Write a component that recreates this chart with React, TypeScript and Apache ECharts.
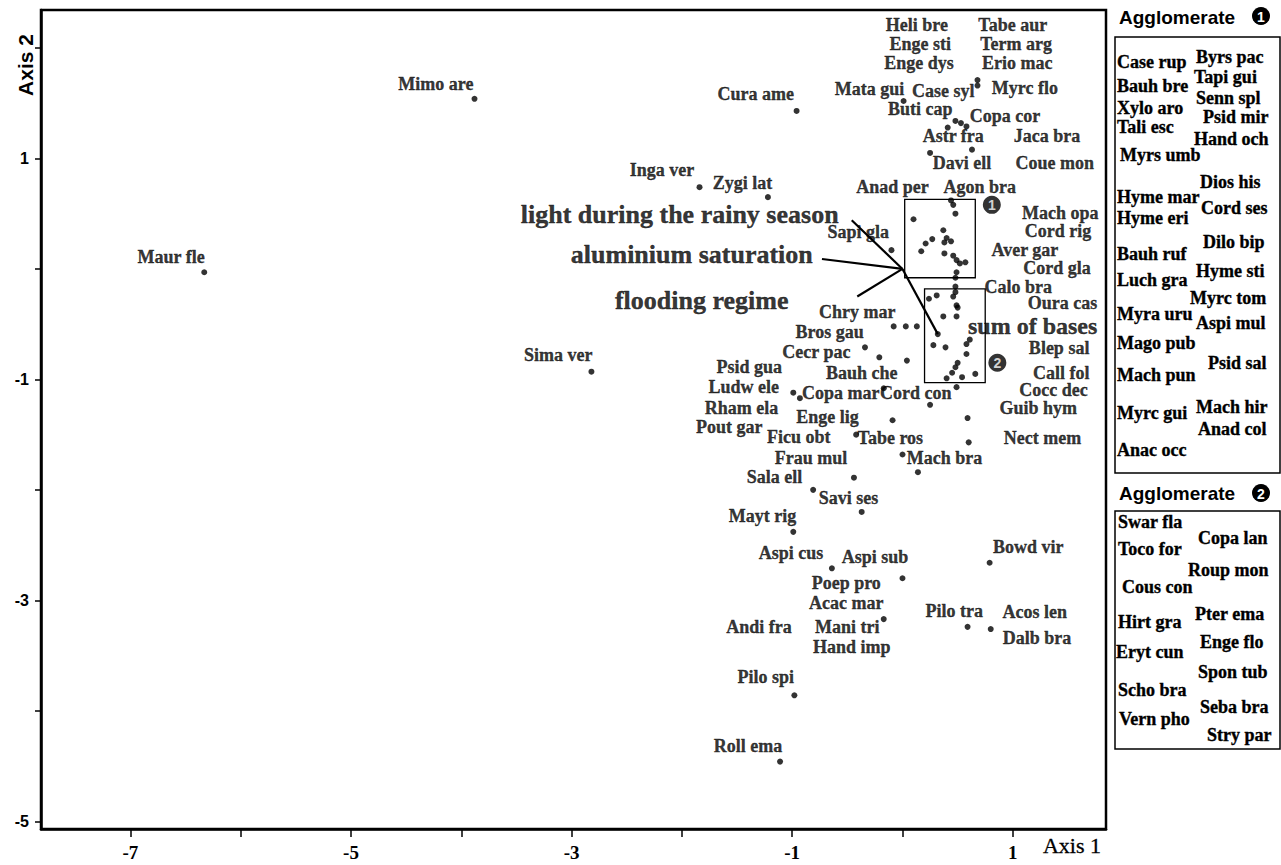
import React, { useEffect, useRef } from 'react';
import * as echarts from 'echarts';

// ---------- data ----------
// species scores (points)
const dotX = [-3.88, -6.33, -0.96, -1.84, -1.22, -2.82, -1.11, -0.98, -0.17, 0.59, 0.80, 0.79, 0.00, -0.64, -0.99, -0.37, -0.81, -0.44, 0.00, 0.14, -0.42, -0.99, -0.93, -0.17, 0.25, -0.09, 0.49, 0.59, 0.60, -0.34, -0.21, 0.04, -0.08, 0.03, 0.13, -0.10, 0.48, 0.48, 0.48, 0.46, 0.31, 0.24, 0.49, 0.50, 0.37, 0.49, 0.28, 0.39, 0.58, 0.61, 0.58, 0.50, 0.48, 0.45, 0.40, 0.54, 0.66, 0.32, 0.44, 0.46, 0.48, 0.10, 0.37, 0.27, 0.21, 0.17, 0.40, 0.38, 0.44, 0.38, 0.46, 0.49, 0.52, 0.57, 0.49, 0.68, 0.68, 0.01, 0.48, 0.53, 0.58, 0.41, 0.25, 0.63];
const dotY = [1.54, -0.03, 1.43, 0.74, 0.65, -0.93, -4.46, -3.86, -3.17, -3.24, -3.26, -2.66, -2.80, -2.71, -2.38, -2.20, -2.00, -1.89, -1.68, -1.84, -1.50, -1.12, -1.17, -1.08, -1.23, -1.37, -1.07, -1.35, -1.57, -0.71, -0.80, -0.83, -0.52, -0.52, -0.52, 0.17, -0.08, -0.16, -0.21, -0.25, -0.24, -0.27, -0.33, -0.35, -0.43, -0.43, -0.69, -0.71, -0.68, -0.64, -0.77, -0.85, -0.89, -0.94, -0.99, -0.98, -0.95, -0.59, 0.62, 0.58, 0.50, 0.45, 0.35, 0.27, 0.23, 0.16, 0.28, 0.24, 0.25, 0.14, 0.12, 0.08, 0.05, 0.06, -0.03, 1.71, 1.66, 1.52, 1.34, 1.32, 1.29, 1.28, 1.05, 1.08];

// species labels and their anchor points (axis units)
const speciesNames = ['Mimo are', 'Cura ame', 'Inga ver', 'Zygi lat', 'Maur fle', 'Sima ver', 'Heli bre', 'Tabe aur', 'Enge sti', 'Term arg', 'Enge dys', 'Erio mac', 'Mata gui', 'Case syl', 'Myrc flo', 'Buti cap', 'Copa cor', 'Astr fra', 'Jaca bra', 'Davi ell', 'Coue mon', 'Anad per', 'Agon bra', 'Sapi gla', 'Mach opa', 'Cord rig', 'Aver gar', 'Cord gla', 'Calo bra', 'Oura cas', 'Blep sal', 'Call fol', 'Cocc dec', 'Guib hym', 'Nect mem', 'Mach bra', 'Chry mar', 'Bros gau', 'Cecr pac', 'Psid gua', 'Bauh che', 'Ludw ele', 'Copa mar', 'Cord con', 'Rham ela', 'Enge lig', 'Pout gar', 'Ficu obt', 'Tabe ros', 'Frau mul', 'Sala ell', 'Savi ses', 'Mayt rig', 'Aspi cus', 'Aspi sub', 'Bowd vir', 'Poep pro', 'Acac mar', 'Andi fra', 'Mani tri', 'Hand imp', 'Pilo tra', 'Acos len', 'Dalb bra', 'Pilo spi', 'Roll ema'];
const speciesLabelX = [-4.23, -1.33, -2.18, -1.45, -6.63, -3.12, 0.13, 1.00, 0.16, 1.03, 0.15, 1.04, -0.30, 0.37, 1.11, 0.16, 0.93, 0.46, 1.31, 0.54, 1.38, -0.09, 0.70, -0.40, 1.43, 1.41, 1.11, 1.40, 1.05, 1.45, 1.42, 1.44, 1.37, 1.23, 1.27, 0.38, -0.41, -0.66, -0.78, -1.39, -0.37, -1.44, -0.56, 0.12, -1.46, -0.68, -1.57, -0.94, -0.11, -0.83, -1.16, -0.49, -1.27, -1.01, -0.25, 1.14, -0.51, -0.51, -1.30, -0.50, -0.46, 0.47, 1.20, 1.22, -1.24, -1.40];
const speciesLabelY = [1.67, 1.58, 0.90, 0.78, 0.11, -0.78, 2.21, 2.21, 2.04, 2.04, 1.86, 1.86, 1.63, 1.61, 1.64, 1.45, 1.38, 1.20, 1.20, 0.96, 0.96, 0.74, 0.74, 0.33, 0.51, 0.34, 0.17, 0.01, -0.16, -0.31, -0.72, -0.94, -1.10, -1.26, -1.53, -1.71, -0.39, -0.57, -0.75, -0.89, -0.94, -1.07, -1.12, -1.12, -1.26, -1.34, -1.43, -1.52, -1.53, -1.71, -1.88, -2.07, -2.24, -2.57, -2.61, -2.52, -2.84, -3.02, -3.24, -3.24, -3.42, -3.10, -3.11, -3.34, -3.69, -4.32];

// environmental variables (biplot arrows from the origin)
const envNames = ['light during the rainy season', 'aluminium saturation', 'flooding regime', 'sum of bases'];
const envTipX = [-0.46, -0.73, -0.41, 0.32];
const envTipY = [0.44, 0.09, -0.25, -0.59];
const envLabelX = [-2.02, -1.91, -1.82, 1.18];
const envLabelY = [0.49, 0.13, -0.29, -0.515];

// agglomerates (boxes in axis units) and their markers
const groupNames = ['1', '2'];
const groupBoxX1 = [0.02, 0.20];
const groupBoxX2 = [0.66, 0.75];
const groupBoxY1 = [0.63, -0.18];
const groupBoxY2 = [-0.08, -1.03];
const groupMarkX = [0.81, 0.86];
const groupMarkY = [0.58, -0.85];

// legend lists
const agg1Left = ['Case rup', 'Bauh bre', 'Xylo aro', 'Tali esc', 'Myrs umb', 'Hyme mar', 'Hyme eri', 'Bauh ruf', 'Luch gra', 'Myra uru', 'Mago pub', 'Mach pun', 'Myrc gui', 'Anac occ'];
const agg1Right = ['Byrs pac', 'Tapi gui', 'Senn spl', 'Psid mir', 'Hand och', 'Dios his', 'Cord ses', 'Dilo bip', 'Hyme sti', 'Myrc tom', 'Aspi mul', 'Psid sal', 'Mach hir', 'Anad col'];
const agg2Left = ['Swar fla', 'Toco for', 'Cous con', 'Hirt gra', 'Eryt cun', 'Scho bra', 'Vern pho'];
const agg2Right = ['Copa lan', 'Roup mon', 'Pter ema', 'Enge flo', 'Spon tub', 'Seba bra', 'Stry par'];

// axes
const xTicks = [-7, -6, -5, -4, -3, -2, -1, 0, 1];
const xTickLabels = [-7, -5, -3, -1, 1];
const yTicks = [-5, -4, -3, -2, -1, 0, 1, 2];
const yTickLabels = [-5, -3, -1, 1];

// ---------- layout (pixels) ----------
const L1_LEFT_X = [1117, 1117, 1117, 1117, 1120, 1117, 1117, 1117, 1117, 1117, 1117, 1117, 1117, 1117];
const L1_LEFT_Y = [62, 86, 108, 127, 155, 197, 218, 254, 280, 314, 343, 375, 413, 450];
const L1_RIGHT_X = [1196, 1194, 1196, 1203, 1194, 1200, 1201, 1203, 1196, 1190, 1196, 1208, 1196, 1198];
const L1_RIGHT_Y = [57, 77, 98, 117, 139, 182, 208, 242, 271, 298, 323, 363, 407, 429];
const L2_LEFT_X = [1118, 1118, 1122, 1118, 1116, 1118, 1119];
const L2_LEFT_Y = [522, 549, 587, 622, 652, 690, 719];
const L2_RIGHT_X = [1198, 1188, 1195, 1200, 1198, 1200, 1207];
const L2_RIGHT_Y = [538, 570, 614, 642, 672, 707, 735];

const SERIF = '"Liberation Serif", "Times New Roman", serif';
const SANS = '"Liberation Sans", Arial, sans-serif';
const LABEL_FONT = 'bold 18px "Liberation Serif"';

function legendTexts(names: string[], xs: number[], ys: number[]) {
  return names.map((n, i) => ({
    type: 'text',
    x: xs[i],
    y: ys[i],
    silent: true,
    style: {
      text: n,
      fill: '#000',
      font: LABEL_FONT,
      align: 'left',
      verticalAlign: 'middle',
      stroke: '#000',
      lineWidth: 0.35,
    },
  }));
}

function buildOption() {
  const series: any[] = [];

  series.push({
    type: 'scatter',
    name: 'species',
    silent: true,
    symbol: 'circle',
    symbolSize: 6,
    itemStyle: { color: '#000' },
    data: dotX.map((x, i) => [x, dotY[i]]),
    z: 3,
    markArea: {
      silent: true,
      itemStyle: { color: 'rgba(0,0,0,0)', borderColor: '#000', borderWidth: 1.3 },
      label: { show: false },
      data: groupNames.map((g, i) => [
        { name: g, coord: [groupBoxX1[i], groupBoxY1[i]] },
        { coord: [groupBoxX2[i], groupBoxY2[i]] },
      ]),
    },
  });

  envNames.forEach((n, i) => {
    series.push({
      type: 'line',
      name: n,
      silent: true,
      symbol: 'none',
      lineStyle: { color: '#000', width: 2.2 },
      data: [[0, 0], [envTipX[i], envTipY[i]]],
      z: 2,
    });
  });

  series.push({
    type: 'scatter',
    name: 'species labels',
    silent: true,
    symbolSize: 1,
    itemStyle: { color: 'rgba(0,0,0,0)' },
    label: {
      show: true,
      position: 'inside',
      formatter: '{b}',
      color: '#000',
      fontFamily: SERIF,
      fontWeight: 'bold',
      fontSize: 18,
      textBorderColor: '#000',
      textBorderWidth: 0.35,
    },
    labelLayout: { hideOverlap: false },
    data: speciesNames.map((n, i) => ({ name: n, value: [speciesLabelX[i], speciesLabelY[i]] })),
    z: 4,
  });

  series.push({
    type: 'scatter',
    name: 'variable labels',
    silent: true,
    symbolSize: 1,
    itemStyle: { color: 'rgba(0,0,0,0)' },
    clip: false,
    label: {
      show: true,
      position: 'inside',
      formatter: '{b}',
      color: '#000',
      fontFamily: SERIF,
      fontWeight: 'bold',
      fontSize: 26,
      textBorderColor: '#000',
      textBorderWidth: 0.4,
    },
    data: envNames.map((n, i) => ({
      name: n,
      value: [envLabelX[i], envLabelY[i]],
      label: i === 3 ? { fontSize: 24, lineHeight: 22 } : undefined,
    })),
    z: 5,
  });

  series.push({
    type: 'scatter',
    name: 'agglomerates',
    silent: true,
    symbol: 'circle',
    symbolSize: 18,
    itemStyle: { color: '#000' },
    label: {
      show: true,
      position: 'inside',
      formatter: '{b}',
      color: '#fff',
      fontFamily: SANS,
      fontWeight: 'bold',
      fontSize: 14,
    },
    data: groupNames.map((g, i) => ({ name: g, value: [groupMarkX[i], groupMarkY[i]] })),
    z: 5,
  });

  const graphic: any[] = [
    {
      type: 'text',
      x: 25,
      y: 65,
      rotation: Math.PI / 2,
      silent: true,
      style: { text: 'Axis 2', fill: '#000', font: 'bold 21px "Liberation Sans"', align: 'center', verticalAlign: 'middle' },
    },
    {
      type: 'text',
      x: 1072,
      y: 845,
      silent: true,
      style: { text: 'Axis 1', fill: '#000', font: '22px "Liberation Serif"', align: 'center', verticalAlign: 'middle', stroke: '#000', lineWidth: 0.3 },
    },
    // legend 1
    {
      type: 'text', x: 1119, y: 17, silent: true,
      style: { text: 'Agglomerate', fill: '#000', font: 'bold 19px "Liberation Sans"', align: 'left', verticalAlign: 'middle' },
    },
    { type: 'circle', silent: true, shape: { cx: 1261, cy: 16, r: 9 }, style: { fill: '#000' } },
    {
      type: 'text', x: 1261, y: 16.5, silent: true,
      style: { text: groupNames[0], fill: '#fff', font: 'bold 14px "Liberation Sans"', align: 'center', verticalAlign: 'middle' },
    },
    { type: 'rect', silent: true, shape: { x: 1115, y: 37, width: 165, height: 436 }, style: { fill: 'none', stroke: '#000', lineWidth: 1.5 } },
    ...legendTexts(agg1Left, L1_LEFT_X, L1_LEFT_Y),
    ...legendTexts(agg1Right, L1_RIGHT_X, L1_RIGHT_Y),
    // legend 2
    {
      type: 'text', x: 1119, y: 493, silent: true,
      style: { text: 'Agglomerate', fill: '#000', font: 'bold 19px "Liberation Sans"', align: 'left', verticalAlign: 'middle' },
    },
    { type: 'circle', silent: true, shape: { cx: 1261, cy: 493, r: 9 }, style: { fill: '#000' } },
    {
      type: 'text', x: 1261, y: 493.5, silent: true,
      style: { text: groupNames[1], fill: '#fff', font: 'bold 14px "Liberation Sans"', align: 'center', verticalAlign: 'middle' },
    },
    { type: 'rect', silent: true, shape: { x: 1115, y: 511, width: 165, height: 238 }, style: { fill: 'none', stroke: '#000', lineWidth: 1.5 } },
    ...legendTexts(agg2Left, L2_LEFT_X, L2_LEFT_Y),
    ...legendTexts(agg2Right, L2_RIGHT_X, L2_RIGHT_Y),
  ];

  return {
    animation: false,
    backgroundColor: '#fff',
    grid: {
      left: 41,
      right: 175,
      top: 10,
      bottom: 36,
      show: true,
      borderColor: '#000',
      borderWidth: 2.5,
      backgroundColor: 'rgba(0,0,0,0)',
    },
    xAxis: {
      type: 'value',
      min: -7.81,
      max: 1.845,
      axisLine: { show: true, onZero: false, lineStyle: { color: '#000', width: 2.5 } },
      splitLine: { show: false },
      axisTick: { show: true, customValues: xTicks, length: 8, lineStyle: { color: '#000', width: 1.5 } },
      axisLabel: {
        show: true,
        customValues: xTickLabels,
        margin: 14,
        color: '#000',
        fontFamily: SERIF,
        fontWeight: 'bold',
        fontSize: 19,
      },
    },
    yAxis: {
      type: 'value',
      min: -5.07,
      max: 2.344,
      axisLine: { show: true, onZero: false, lineStyle: { color: '#000', width: 2.5 } },
      splitLine: { show: false },
      axisTick: { show: true, customValues: yTicks, length: 6, lineStyle: { color: '#000', width: 1.5 } },
      axisLabel: {
        show: true,
        customValues: yTickLabels,
        margin: 12,
        color: '#000',
        fontFamily: SANS,
        fontWeight: 'bold',
        fontSize: 16,
      },
    },
    series,
    graphic,
  };
}

export default function App() {
  const ref = useRef<HTMLDivElement>(null);
  useEffect(() => {
    if (!ref.current) return;
    const chart = echarts.init(ref.current, null, { renderer: 'svg' });
    chart.setOption(buildOption() as any);
    return () => chart.dispose();
  }, []);
  return (
    <div
      ref={ref}
      style={{ position: 'absolute', left: 0, top: 0, width: 1281, height: 865, background: '#fff' }}
    />
  );
}
